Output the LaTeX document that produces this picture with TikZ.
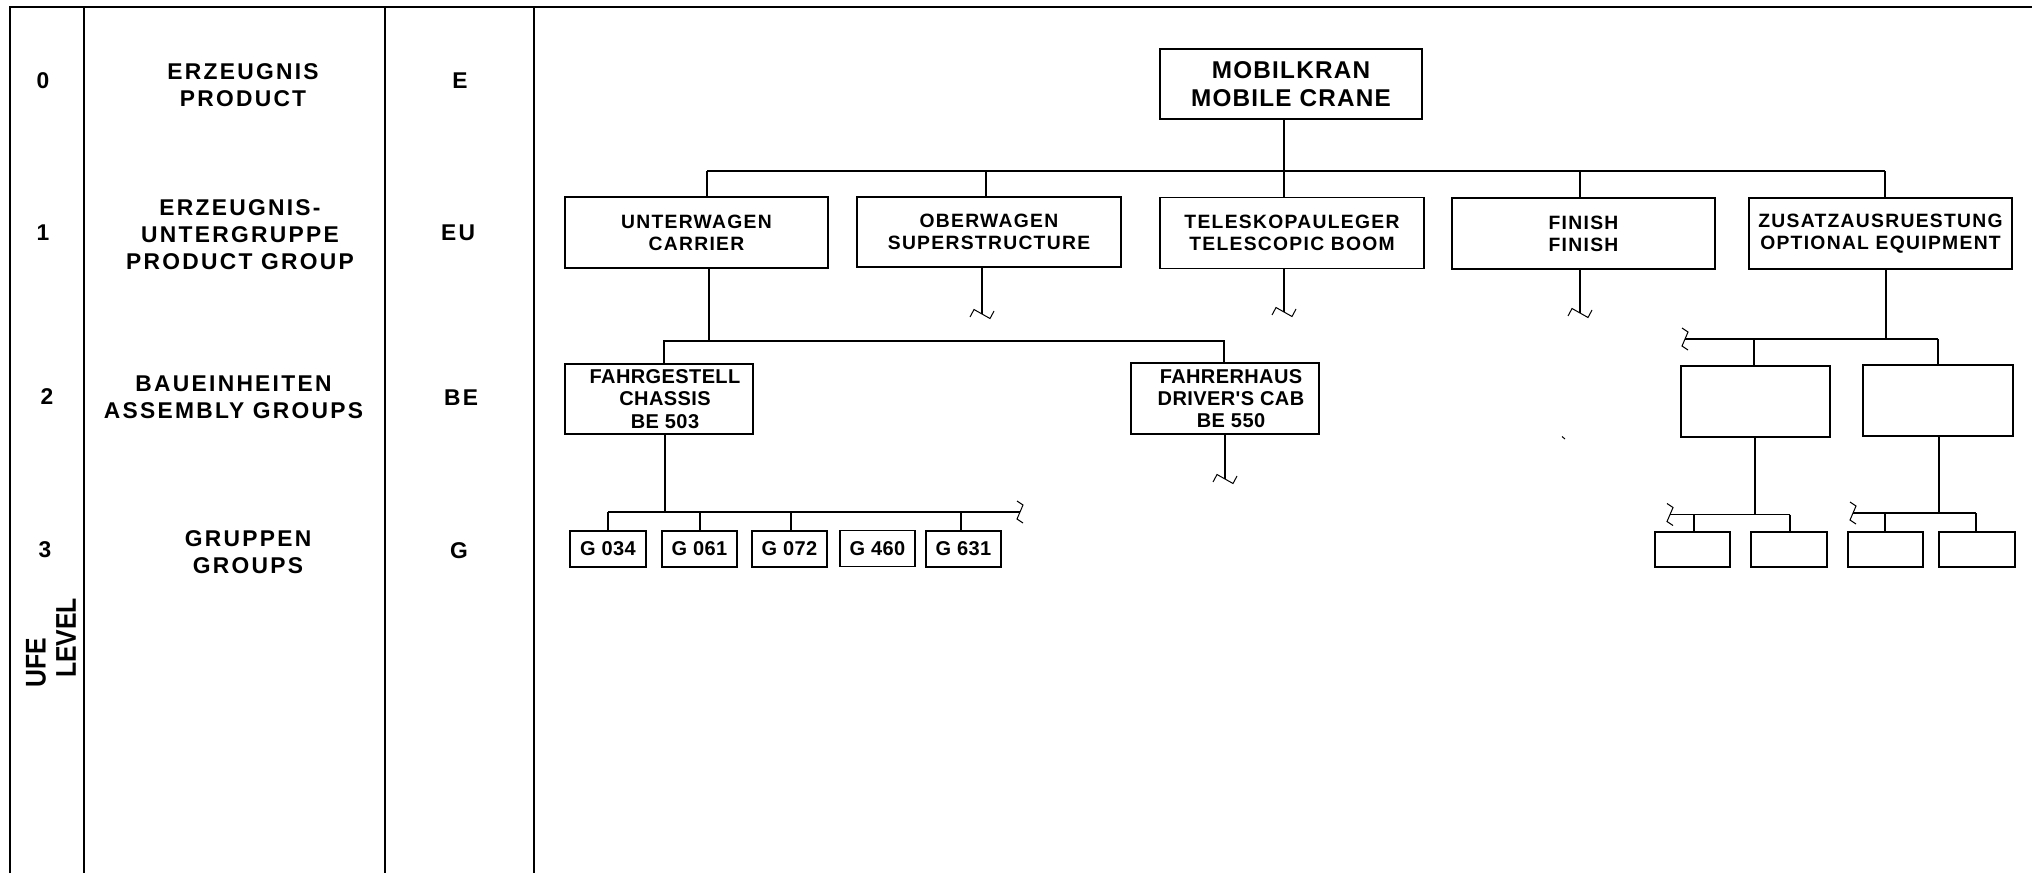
\documentclass[tikz,border=0pt]{standalone}
\usepackage{fontspec}
\usepackage{graphicx}
\setmainfont{Liberation Sans}
\newfontfamily\trkA{Liberation Sans}[LetterSpace=10]
\newfontfamily\trkB{Liberation Sans}[LetterSpace=6.7]
\newfontfamily\trkC{Liberation Sans}[LetterSpace=5]
\newfontfamily\trkD{Liberation Sans}[LetterSpace=2]
\newcommand\mycolfont{\trkA\bfseries\fontsize{22.8}{27}\selectfont}
\newcommand\myboxfont{\trkB\bfseries\fontsize{19.3}{21.8}\selectfont}
\newcommand\mysubfont{\trkD\bfseries\fontsize{20}{22.2}\selectfont}
\newcommand\mymobfont{\trkC\bfseries\fontsize{24.3}{27.3}\selectfont}
\newcommand\myufefont{\bfseries\fontsize{28.5}{30}\selectfont}
\begin{document}
\begin{tikzpicture}[x=1pt,y=-1pt,
  frame/.style={line width=2pt},
  box/.style={draw,line width=1.8pt,inner sep=0pt,align=center,font=\myboxfont},
  subbox/.style={box,font=\mysubfont},
  lbl/.style={inner sep=0pt,align=center,font=\mycolfont},
  conn/.style={line width=1.8pt},
  thin/.style={line width=1.2pt},
  zzh/.pic={\draw[line width=1pt] (-12,3) -- (-8,-4.5) -- (8,4.5) -- (12,-3);},
  zzv/.pic={\draw[line width=1pt] (-3,-11) -- (3,-7) -- (-3,7) -- (3,11);}
]
\useasboundingbox (0,0) rectangle (2036,873);
% frame
\draw[frame] (10,873) -- (10,7) -- (2032,7);
\draw[frame] (84,7) -- (84,873);
\draw[line width=2.4pt] (385,7) -- (385,873);
\draw[frame] (534,7) -- (534,873);
% level column
\node[lbl] (l0) at (43,81) {0};
\node[lbl] (l1) at (43,233) {1};
\node[lbl] (l2) at (47,397) {2};
\node[lbl] (l3) at (45,550) {3};
\node[lbl] (n0) at (243,84.7) {ERZEUGNIS\\PRODUCT};
\node[lbl] (n1) at (240,235) {ERZEUGNIS-\\UNTERGRUPPE\\PRODUCT GROUP};
\node[lbl] (n2) at (233.5,397) {BAUEINHEITEN\\ASSEMBLY GROUPS};
\node[lbl] (n3) at (248,552) {GRUPPEN\\GROUPS};
\node[lbl] (k0) at (460,81) {E};
\node[lbl] (k1) at (458,233) {EU};
\node[lbl] (k2) at (461,397.7) {BE};
\node[lbl] (k3) at (459,551) {G};
\node[inner sep=0pt,rotate=90,font=\myufefont] (ufe) at (36,662.7) {\scalebox{0.87}[1]{UFE}};
\node[inner sep=0pt,rotate=90,font=\myufefont] (lev) at (66,638) {\scalebox{0.87}[1]{LEVEL}};
% boxes
\node[box,font=\mymobfont,minimum width=262pt,minimum height=70pt] (mob) at (1291,84) {MOBILKRAN\\MOBILE CRANE};
\node[box,minimum width=263pt,minimum height=71pt] (unter) at (696.5,232.5) {UNTERWAGEN\\CARRIER};
\node[box,minimum width=264pt,minimum height=70pt] (ober) at (989,232) {OBERWAGEN\\SUPERSTRUCTURE};
\node[box,minimum width=264pt,minimum height=71pt] (tele) at (1292,233) {TELESKOPAULEGER\\TELESCOPIC BOOM};
\node[box,minimum width=263pt,minimum height=71pt] (fin) at (1583.5,233.5) {FINISH\\FINISH};
\node[box,minimum width=263pt,minimum height=71pt] (zus) at (1880.5,233.5) {ZUSATZAUSRUESTUNG\\OPTIONAL EQUIPMENT};
\node[subbox,minimum width=188pt,minimum height=70pt] (fahrg) at (659,399) {\hspace*{12pt}FAHRGESTELL\\\hspace*{12pt}CHASSIS\\\hspace*{12pt}BE 503};
\node[subbox,minimum width=188pt,minimum height=71pt] (fahrh) at (1225,398.5) {\hspace*{12pt}FAHRERHAUS\\\hspace*{12pt}DRIVER'S CAB\\\hspace*{12pt}BE 550};
\node[subbox,minimum width=76pt,minimum height=36pt] (g1) at (608,549) {G 034};
\node[subbox,minimum width=75pt,minimum height=36pt] (g2) at (699.5,549) {G 061};
\node[subbox,minimum width=75pt,minimum height=36pt] (g3) at (789.5,549) {G 072};
\node[subbox,minimum width=75pt,minimum height=36pt] (g4) at (877.5,548.5) {G 460};
\node[subbox,minimum width=75pt,minimum height=36pt] (g5) at (963.5,549) {G 631};
\node[box,line width=1.3pt,minimum width=149pt,minimum height=71pt] (ea) at (1755.5,401.5) {};
\node[box,line width=1.3pt,minimum width=150pt,minimum height=71pt] (eb) at (1938,400.5) {};
\node[box,line width=1.3pt,minimum width=75pt,minimum height=35pt] (c1) at (1692.5,549.5) {};
\node[box,line width=1.3pt,minimum width=76pt,minimum height=35pt] (c2) at (1789,549.5) {};
\node[box,line width=1.3pt,minimum width=75pt,minimum height=35pt] (c3) at (1885.5,549.5) {};
\node[box,line width=1.3pt,minimum width=76pt,minimum height=35pt] (c4) at (1977,549.5) {};
% level 1 bus
\coordinate (dU) at (707,171);
\coordinate (dO) at (986,171);
\coordinate (dT) at (1284,171);
\coordinate (dF) at (1580,171);
\coordinate (dZ) at (1885,171);
\draw[conn] (dU) -- (dZ);
\draw[conn] (dU) -- (dU |- unter.north);
\draw[conn] (dO) -- (dO |- ober.north);
\draw[conn] (mob.south -| dT) -- (dT |- tele.north);
\draw[conn] (dF) -- (dF |- fin.north);
\draw[conn] (dZ) -- (dZ |- zus.north);
% broken ends below level 1
\coordinate (eO) at (982,314);
\coordinate (eT) at (1284,312);
\coordinate (eF) at (1580,313);
\draw[thin] (ober.south -| eO) -- (eO);
\draw[thin] (tele.south -| eT) -- (eT);
\draw[thin] (fin.south -| eF) -- (eF);
\pic at (eO) {zzh};
\pic at (eT) {zzh};
\pic at (eF) {zzh};
% carrier subtree
\coordinate (b2) at (709,341);
\coordinate (b2L) at (664,341);
\coordinate (b2R) at (1224,341);
\draw[conn] (unter.south -| b2) -- (b2);
\draw[conn] (fahrg.north -| b2L) -- (b2L) -- (b2R) -- (fahrh.north -| b2R);
\coordinate (b3) at (665,512);
\coordinate (b3L) at (608,512);
\coordinate (b3R) at (1020,512);
\draw[conn] (fahrg.south -| b3) -- (b3);
\draw[conn] (b3L) -- (b3R);
\pic at (b3R) {zzv};
\coordinate (h1) at (608,512);
\coordinate (h2) at (700,512);
\coordinate (h3) at (791,512);
\coordinate (h5) at (961,512);
\draw[conn] (h1) -- (h1 |- g1.north);
\draw[conn] (h2) -- (h2 |- g2.north);
\draw[conn] (h3) -- (h3 |- g3.north);
\draw[conn] (h5) -- (h5 |- g5.north);
\coordinate (eH) at (1225,479);
\draw[thin] (fahrh.south -| eH) -- (eH);
\pic at (eH) {zzh};
% optional equipment subtree
\coordinate (b4) at (1886,339);
\coordinate (b4L) at (1685,339);
\coordinate (b4a) at (1754,339);
\coordinate (b4b) at (1938,339);
\draw[thin] (zus.south -| b4) -- (b4);
\draw[thin] (b4L) -- (b4b);
\pic at (b4L) {zzv};
\draw[thin] (b4a) -- (b4a |- ea.north);
\draw[thin] (b4b) -- (b4b |- eb.north);
\coordinate (b5) at (1755,514.5);
\coordinate (b5L) at (1670,514.5);
\coordinate (b5a) at (1694,514.5);
\coordinate (b5b) at (1790,514.5);
\draw[thin] (ea.south -| b5) -- (b5);
\draw[thin] (b5L) -- (b5b);
\pic at (b5L) {zzv};
\draw[thin] (b5a) -- (b5a |- c1.north);
\draw[thin] (b5b) -- (b5b |- c2.north);
\coordinate (b6) at (1939,513);
\coordinate (b6L) at (1853,513);
\coordinate (b6a) at (1885,513);
\coordinate (b6b) at (1976,513);
\draw[thin] (eb.south -| b6) -- (b6);
\draw[thin] (b6L) -- (b6b);
\pic at (b6L) {zzv};
\draw[thin] (b6a) -- (b6a |- c3.north);
\draw[thin] (b6b) -- (b6b |- c4.north);
% stray tick
\draw[line width=1pt] (1562,436.5) -- (1565,439);
\end{tikzpicture}
\end{document}
